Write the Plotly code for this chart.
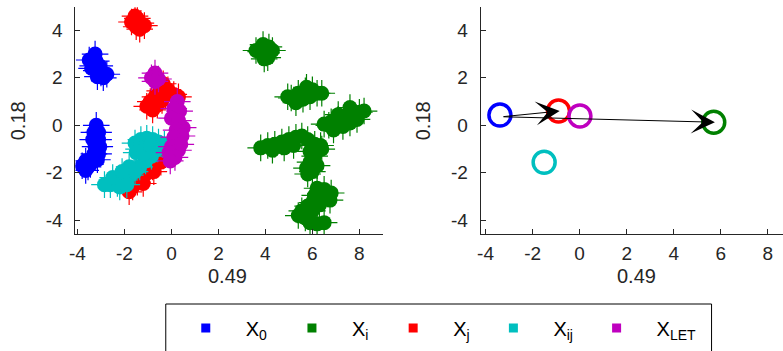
import plotly.graph_objects as go

# ---- scatter clusters of the projected samples (left panel) ----
x0_x = [-3.25, -3.5, -3.2, -3.35, -3.05, -3.2, -3.0, -2.75, -3.15, -2.9, -3.4,
        -3.2, -3.3, -3.1, -3.35, -3.1, -3.25, -3.05, -3.3, -3.1, -3.15,
        -3.65, -3.8, -3.55, -3.65, -3.45]
x0_y = [3.0, 2.75, 2.7, 2.5, 2.5, 2.3, 2.2, 2.15, 2.05, 2.0, 2.4,
        0.0, -0.3, -0.3, -0.6, -0.6, -0.9, -0.9, -1.2, -1.2, -1.45,
        -1.5, -1.7, -1.75, -1.9, -1.65]

xi_x = [3.9, 4.15, 3.8, 4.05, 4.3, 3.95, 3.6, 4.1,
        5.1, 5.4, 5.7, 6.0, 5.3, 5.6, 5.9, 6.2, 4.95, 5.75, 6.4,
        6.5, 6.8, 7.1, 7.4, 7.7, 8.0, 6.9, 7.3, 7.6, 7.9, 8.2, 6.7, 7.1, 7.6,
        3.8, 4.1, 4.4, 4.7, 5.0, 5.3, 5.55, 5.8, 6.1, 6.35, 4.3, 4.8, 5.2,
        5.9, 6.1, 5.9, 6.2, 5.75, 6.0, 5.8, 6.4,
        6.2, 6.5, 6.8, 6.1, 6.45, 6.75, 6.0, 5.8, 5.55, 5.4, 5.7, 5.9,
        6.2, 6.5, 6.0, 6.3]
xi_y = [3.4, 3.3, 3.1, 3.05, 3.15, 2.8, 3.15, 2.85,
        1.15, 1.35, 1.45, 1.5, 0.95, 1.1, 1.2, 1.35, 1.2, 1.6, 1.35,
        0.05, 0.15, 0.25, 0.35, 0.45, 0.55, -0.2, -0.05, 0.1, 0.25, 0.6, 0.0,
        0.45, 0.75,
        -0.95, -0.85, -0.8, -0.7, -0.6, -0.5, -0.45, -0.6, -0.8, -0.85, -1.05,
        -0.95, -0.85,
        -1.1, -1.3, -1.55, -1.7, -1.8, -1.95, -2.05, -1.0,
        -2.65, -2.7, -2.85, -2.95, -3.05, -3.15, -3.25, -3.4, -3.6, -3.8,
        -3.9, -4.1, -4.15, -4.1, -3.6, -3.35]

xj_x = [-1.7, -1.45, -1.3, -1.5, -1.15, -1.35, -1.55,
        -0.35, -0.15, -0.5, -0.25, -0.7, -0.4, -0.9, -0.6, -1.05, -0.8,
        0.3, 0.1,
        -0.3, -0.55, -0.45, -0.8, -1.0, -1.25, -1.45, -1.65, -1.8, -1.55,
        -1.2, -0.75]
xj_y = [4.35, 4.5, 4.3, 4.15, 4.2, 4.05, 4.6,
        1.75, 1.5, 1.45, 1.25, 1.2, 1.05, 1.0, 0.85, 0.8, 0.65,
        1.2, 1.3,
        -1.2, -1.35, -1.55, -1.75, -2.0, -2.2, -2.4, -2.6, -2.8, -2.35,
        -2.45, -1.95]

xij_x = [-1.55, -1.3, -1.05, -0.8, -0.55, -0.3, -0.05, -1.4, -1.1,
         -0.85, -1.1, -1.35, -1.55, -1.75, -2.0, -2.3, -2.6, -2.85,
         -2.2, -1.9, -1.5, -1.2, -0.6, -0.9, -2.5, -1.8, -2.1]
xij_y = [-0.75, -0.6, -0.55, -0.6, -0.7, -0.8, -0.9, -1.0, -0.95,
         -1.3, -1.5, -1.75, -1.95, -2.1, -2.3, -2.45, -2.5, -2.5,
         -2.6, -2.5, -1.15, -1.2, -1.0, -0.85, -2.2, -1.75, -1.95]

xlet_x = [-0.7, -0.85, -0.55, -0.7,
          0.25, 0.1, 0.35, 0.0, 0.3, 0.5, 0.2, 0.45, 0.1, 0.4, 0.0, 0.3,
          -0.1, 0.15, -0.05]
xlet_y = [2.2, 2.0, 1.95, 1.85,
          1.0, 0.7, 0.6, 0.3, 0.2, -0.1, -0.2, -0.45, -0.5, -0.8, -0.9,
          -1.05, -1.15, -1.35, -1.5]

# ---- cluster centres (right panel) ----
centre_x = [-3.39, 5.70, -0.90, -1.51, 0.01]
centre_y = [0.43, 0.13, 0.60, -1.56, 0.39]

# ---- ticks ----
x_ticks = [-4, -2, 0, 2, 4, 6, 8]
y_ticks = [-4, -2, 0, 2, 4]
x_ticktext = ["-4", "-2", "0", "2", "4", "6", "8"]
y_ticktext = ["-4", "-2", "0", "2", "4"]

names = ["X<sub>0</sub>", "X<sub>i</sub>", "X<sub>j</sub>",
         "X<sub>ij</sub>", "X<sub>LET</sub>"]
colors = ["#0000FF", "#008000", "#FF0000", "#00BFBF", "#BF00BF"]
clusters = [(x0_x, x0_y), (xi_x, xi_y), (xj_x, xj_y),
            (xij_x, xij_y), (xlet_x, xlet_y)]

FONT = "Liberation Sans, Arial, sans-serif"
INK = "#262626"
W, H = 783, 351

fig = go.Figure()

# each cluster: a solid body plus thin "+" spikes around it
for (cx, cy), col in zip(clusters, colors):
    fig.add_trace(go.Scatter(
        x=cx, y=cy, mode="markers", xaxis="x", yaxis="y",
        marker=dict(symbol="cross-thin", size=19, color=col,
                    line=dict(width=1.2, color=col)),
        showlegend=False, hoverinfo="skip"))
    fig.add_trace(go.Scatter(
        x=cx, y=cy, mode="markers", xaxis="x", yaxis="y",
        marker=dict(symbol="circle", size=15, color=col, line=dict(width=0)),
        showlegend=False, hoverinfo="skip"))

for i, col in enumerate(colors):
    fig.add_trace(go.Scatter(
        x=[centre_x[i]], y=[centre_y[i]], mode="markers",
        xaxis="x2", yaxis="y2",
        marker=dict(symbol="circle-open", size=22, color=col,
                    line=dict(width=3.5, color=col)),
        showlegend=False))

# legend entries: small filled squares, one legend per column
legend_marker_px = [207, 314, 416, 517, 621]
legends = {}
for k, (col, nm) in enumerate(zip(colors, names)):
    key = "legend" if k == 0 else f"legend{k + 1}"
    fig.add_trace(go.Scatter(
        x=[None], y=[None], mode="markers", name=nm, legend=key,
        marker=dict(symbol="square", size=9, color=col)))
    legends[key] = dict(
        orientation="h", x=(legend_marker_px[k] - 46) / W, xanchor="left",
        y=1 - 328 / H, yanchor="middle", itemwidth=70,
        bgcolor="rgba(0,0,0,0)", borderwidth=0,
        font=dict(family=FONT, size=20, color="black"))

# arrows from X0 to Xj and from X0 to Xi
tail = (centre_x[0] + 0.09, centre_y[0] - 0.07)
annotations = []
for k in (2, 1):
    annotations.append(dict(
        x=centre_x[k] + 0.05, y=centre_y[k], ax=tail[0], ay=tail[1],
        xref="x2", yref="y2", axref="x2", ayref="y2", text="",
        showarrow=True, arrowhead=3, arrowsize=4, arrowwidth=1,
        arrowcolor="black"))

for xc in (223, 635):
    annotations.append(dict(
        x=xc / W, y=1 - 276 / H, xref="paper", yref="paper", text="0.49",
        showarrow=False, xanchor="center", yanchor="middle",
        font=dict(family=FONT, size=20, color=INK)))

axis_common = dict(
    showgrid=False, zeroline=False, showline=True, linecolor=INK,
    linewidth=1, ticks="inside", ticklen=5, tickcolor=INK,
    tickfont=dict(family=FONT, size=19, color=INK))
ytitle = dict(text="0.18", standoff=14,
              font=dict(family=FONT, size=20, color=INK))

ydom = [1 - 234.3 / H, 1 - 7.3 / H]
fig.update_layout(
    width=W, height=H, margin=dict(l=0, r=0, t=0, b=0),
    paper_bgcolor="white", plot_bgcolor="white",
    xaxis=dict(domain=[70 / W, 380 / W], range=[-4.085, 9.01],
               tickvals=x_ticks, ticktext=x_ticktext, anchor="y",
               ticklabelstandoff=2, **axis_common),
    yaxis=dict(domain=ydom, range=[-4.59, 4.97],
               tickvals=y_ticks, ticktext=y_ticktext, anchor="x",
               ticklabelstandoff=8, title=ytitle, **axis_common),
    xaxis2=dict(domain=[478.3 / W, 1.0], range=[-4.21, 8.645],
                tickvals=x_ticks, ticktext=x_ticktext, anchor="y2",
                ticklabelstandoff=2, **axis_common),
    yaxis2=dict(domain=ydom, range=[-4.59, 4.97],
                tickvals=y_ticks, ticktext=y_ticktext, anchor="x2",
                ticklabelstandoff=8, title=ytitle, **axis_common),
    showlegend=True,
    annotations=annotations,
    shapes=[dict(type="rect", xref="paper", yref="paper",
                 x0=161 / W, x1=711 / W, y0=-0.2, y1=1 - 304 / H,
                 line=dict(color="black", width=1), fillcolor="rgba(0,0,0,0)")],
    **legends,
)

fig.write_html("out.html")
